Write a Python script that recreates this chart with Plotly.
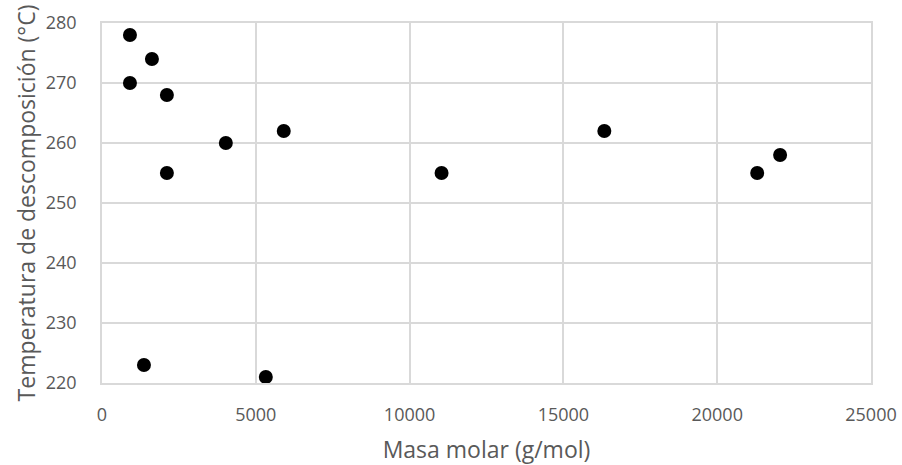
import plotly.graph_objects as go

masa_molar = [909, 1623, 909, 2110, 4026, 2110, 5909, 1364, 5325, 11039, 16331, 21300, 22045]
temperatura = [278, 274, 270, 268, 260, 255, 262, 223, 221, 255, 262, 255, 258]

x_ticks = [0, 5000, 10000, 15000, 20000, 25000]
y_ticks = [220, 230, 240, 250, 260, 270, 280]

grid = "#d9d9d9"
txt = "#595959"
font_family = "Open Sans, Noto Sans, sans-serif"

fig = go.Figure(
    go.Scatter(
        x=masa_molar, y=temperatura, mode="markers",
        marker=dict(color="black", size=14),
        showlegend=False,
    )
)

fig.update_layout(
    width=902, height=465,
    margin=dict(l=102, r=31, t=23, b=82, autoexpand=False),
    paper_bgcolor="white", plot_bgcolor="white",
    font=dict(family=font_family, color=txt, size=18),
)
fig.update_xaxes(
    range=[0, 25000], tickvals=x_ticks, ticktext=[str(v) for v in x_ticks],
    showgrid=True, gridcolor=grid, gridwidth=1.5,
    showline=True, linecolor=grid, linewidth=1.5, mirror=True,
    zeroline=False, ticks="", ticklabelstandoff=15, automargin=False,
    title=dict(text="Masa molar (g/mol)", font=dict(size=23, color=txt), standoff=22),
)
fig.update_yaxes(
    range=[220, 280], tickvals=y_ticks,
    showgrid=True, gridcolor=grid, gridwidth=1.5,
    showline=True, linecolor=grid, linewidth=1.5, mirror=True,
    zeroline=False, ticks="", ticklabelstandoff=20, automargin=False,
    title=dict(text="Temperatura de descomposición (°C)", font=dict(size=23, color=txt), standoff=4),
)

fig.write_html("out.html")
